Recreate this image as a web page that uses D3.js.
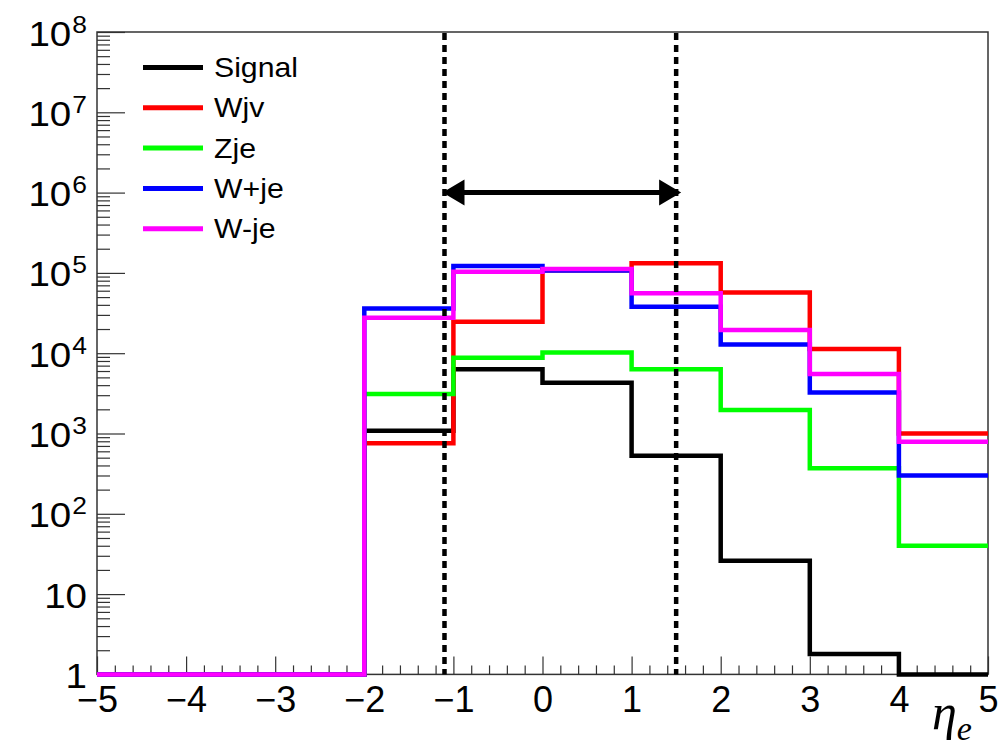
<!DOCTYPE html>
<html>
<head>
<meta charset="utf-8">
<script src="https://cdn.jsdelivr.net/npm/d3@7"></script>
<style>
  html, body { margin: 0; padding: 0; background: #fff; }
  svg { display: block; }
  text { font-family: "Liberation Sans", Arial, sans-serif; fill: #000; }
</style>
</head>
<body>
<svg id="chart" width="1000" height="751"></svg>
<script>
// Histogram bin edges in eta_e
const binEdges = [-5, -4, -3, -2, -1, 0, 1, 2, 3, 4, 5];

// Bin contents per sample (log scale; empty bins sit at the axis minimum of 1)
const signal    = [1, 1, 1, 1080, 6300, 4300, 530, 26, 1.8, 1];
const wjv       = [1, 1, 1, 755, 24700, 108000, 132000, 57000, 11300, 1000];
const zje       = [1, 1, 1, 3100, 8800, 10200, 6300, 1960, 370, 40];
const wPlusJe   = [1, 1, 1, 36000, 122000, 107000, 38000, 12800, 3250, 300];
const wMinusJe  = [1, 1, 1, 27700, 103000, 112000, 55600, 19500, 5500, 790];

const seriesNames  = ["Signal", "Wjv", "Zje", "W+je", "W-je"];
const seriesColors = ["#000000", "#ff0000", "#00ff00", "#0000ff", "#ff00ff"];
const seriesValues = [signal, wjv, zje, wPlusJe, wMinusJe];

// Selection window
const cuts = [-1.1, 1.5];

// Axis tick definitions
const xMajorTicks = [-5, -4, -3, -2, -1, 0, 1, 2, 3, 4, 5];
const yExponents  = [0, 1, 2, 3, 4, 5, 6, 7, 8];

const svg = d3.select("#chart");

const plotLeft = 97, plotRight = 988, plotTop = 32, plotBottom = 674.4;
const x = d3.scaleLinear().domain([-5, 5]).range([plotLeft, plotRight]);
const y = d3.scaleLog().domain([1, 1e8]).range([plotBottom, plotTop]);

// Minor tick values
const xMinorTicks = d3.range(-5, 5.0001, 0.2).filter(v => Math.abs(v - Math.round(v)) > 1e-6);
const yMajorTicks = yExponents.map(p => Math.pow(10, p));
const yMinorTicks = [];
for (let p = 0; p < 8; p++) for (let m = 2; m <= 9; m++) yMinorTicks.push(m * Math.pow(10, p));

const axisColor = "#333";

// ---- Y axis (ticks inside the frame) ----
const yMinor = svg.append("g").attr("transform", `translate(${plotLeft},0)`)
  .call(d3.axisLeft(y).tickValues(yMinorTicks).tickSize(-13).tickFormat(() => ""));
const yMajor = svg.append("g").attr("transform", `translate(${plotLeft},0)`)
  .call(d3.axisLeft(y).tickValues(yMajorTicks).tickSize(-28).tickFormat(() => ""));
[yMinor, yMajor].forEach(g => {
  g.select(".domain").remove();
  g.selectAll("line").attr("stroke", axisColor).attr("stroke-width", 1.2);
});

// Decade labels: 1, 10, 10^2 ... 10^8
yMajor.selectAll(".tick").each(function(d) {
  const p = Math.round(Math.log10(d));
  const t = d3.select(this).select("text");
  t.text(null)
    .attr("x", null).attr("dy", null)
    .attr("text-anchor", "end")
    .attr("font-size", 35)
    .attr("fill", "#000")
    .style("font-family", '"Liberation Sans", Arial, sans-serif')
    .attr("transform", `translate(-10,13) scale(1.1,1)`);
  if (p === 0) {
    t.append("tspan").text("1");
  } else if (p === 1) {
    t.append("tspan").text("10");
  } else {
    t.append("tspan").text("10");
    t.append("tspan").attr("dy", -13).attr("dx", 1).attr("font-size", 24).text(String(p));
  }
});

// ---- X axis (ticks inside the frame) ----
const xMinor = svg.append("g").attr("transform", `translate(0,${plotBottom})`)
  .call(d3.axisBottom(x).tickValues(xMinorTicks).tickSize(-9).tickFormat(() => ""));
const xMajor = svg.append("g").attr("transform", `translate(0,${plotBottom})`)
  .call(d3.axisBottom(x).tickValues(xMajorTicks).tickSize(-18).tickPadding(12).tickFormat(d3.format("d")));
[xMinor, xMajor].forEach(g => {
  g.select(".domain").remove();
  g.selectAll("line").attr("stroke", axisColor).attr("stroke-width", 1.2);
});
xMajor.selectAll("text").attr("font-size", 36).attr("fill", "#000")
  .style("font-family", '"Liberation Sans", Arial, sans-serif');

// ---- Frame ----
svg.append("rect")
  .attr("x", plotLeft).attr("y", plotTop)
  .attr("width", plotRight - plotLeft).attr("height", plotBottom - plotTop)
  .attr("fill", "none").attr("stroke", axisColor).attr("stroke-width", 1.5);

// ---- Step histograms ----
function stepPoints(values) {
  const pts = [];
  values.forEach((v, i) => {
    pts.push([x(binEdges[i]), y(v)]);
    pts.push([x(binEdges[i + 1]), y(v)]);
  });
  return pts;
}
const line = d3.line();
seriesValues.forEach((vals, i) => {
  svg.append("path")
    .attr("d", line(stepPoints(vals)))
    .attr("fill", "none")
    .attr("stroke", seriesColors[i])
    .attr("stroke-width", 4.5)
    .attr("stroke-linejoin", "miter")
    .attr("stroke-linecap", "butt");
});

// ---- Cut lines ----
cuts.forEach(c => {
  svg.append("line")
    .attr("x1", x(c)).attr("x2", x(c))
    .attr("y1", plotTop + 1).attr("y2", plotBottom)
    .attr("stroke", "#000").attr("stroke-width", 4.5)
    .attr("stroke-dasharray", "7,5");
});

// ---- Double-headed arrow between the cuts ----
const arrowY = 192.5, headLen = 22, headHalf = 13;
const xa = x(cuts[0]) - 2, xb = x(cuts[1]) + 5;
svg.append("line")
  .attr("x1", xa + headLen - 2).attr("x2", xb - headLen + 2)
  .attr("y1", arrowY).attr("y2", arrowY)
  .attr("stroke", "#000").attr("stroke-width", 5);
svg.append("path")
  .attr("d", `M${xa},${arrowY} L${xa + headLen},${arrowY - headHalf} L${xa + headLen},${arrowY + headHalf} Z`)
  .attr("fill", "#000");
svg.append("path")
  .attr("d", `M${xb},${arrowY} L${xb - headLen},${arrowY - headHalf} L${xb - headLen},${arrowY + headHalf} Z`)
  .attr("fill", "#000");

// ---- Legend ----
const legend = svg.append("g");
seriesNames.forEach((name, i) => {
  const ry = 67.5 + i * 40.3;
  legend.append("line")
    .attr("x1", 143).attr("x2", 203)
    .attr("y1", ry).attr("y2", ry)
    .attr("stroke", seriesColors[i]).attr("stroke-width", 5);
  legend.append("text")
    .attr("transform", `translate(214,${ry + 9.5}) scale(1.08,1)`)
    .attr("font-size", 28)
    .text(name);
});

// ---- X axis title ----
const xTitle = svg.append("text")
  .attr("x", 932).attr("y", 729)
  .style("font-family", '"Liberation Serif", "DejaVu Serif", serif')
  .attr("font-style", "italic");
xTitle.append("tspan").attr("font-size", 50).text("η");
xTitle.append("tspan").attr("font-size", 34).attr("dy", 11).text("e");
</script>
</body>
</html>
